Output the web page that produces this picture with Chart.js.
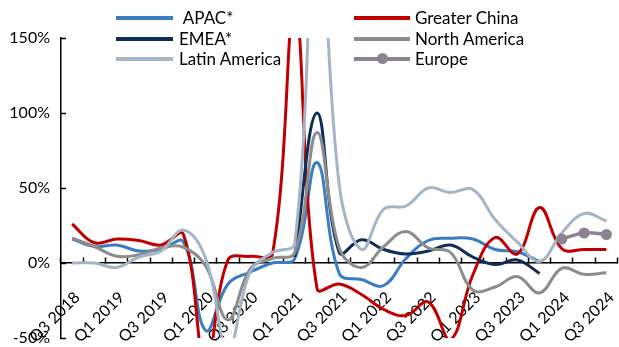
<!DOCTYPE html>
<html>
<head>
<meta charset="utf-8">
<script src="https://cdn.jsdelivr.net/npm/chart.js@4.4.1/dist/chart.umd.min.js"></script>
<style>
  html, body { margin: 0; padding: 0; background: #fff; overflow: hidden; width: 619px; height: 347px; }
  #wrap { position: relative; width: 623px; height: 347px; }
  #c { position: absolute; left: 0; top: 0; }
  .lg-text { position: absolute; font-family: Lato, sans-serif; font-size: 17px; color: #000; height: 20px; line-height: 20px; white-space: pre; }
  .lg-line { position: absolute; height: 4px; }
  .lg-dot { position: absolute; width: 11px; height: 11px; border-radius: 50%; }
</style>
</head>
<body>
<div id="wrap">
  <canvas id="c" width="623" height="347"></canvas>
  <div id="legend"></div>
</div>
<script>
// Quarterly year-over-year growth by region (%)
const quarters = ['Q3 2018', 'Q4 2018', 'Q1 2019', 'Q2 2019', 'Q3 2019', 'Q4 2019',
  'Q1 2020', 'Q2 2020', 'Q3 2020', 'Q4 2020', 'Q1 2021', 'Q2 2021', 'Q3 2021',
  'Q4 2021', 'Q1 2022', 'Q2 2022', 'Q3 2022', 'Q4 2022', 'Q1 2023', 'Q2 2023',
  'Q3 2023', 'Q4 2023', 'Q1 2024', 'Q2 2024', 'Q3 2024'];

const apac = [16, 11, 12, 8, 9, 14, -45, -14, -6, 0, 3, 67, -7, -11, -15, 3, 15, 16.5, 16, 9, 7.5, 1, null, null, null];
const greaterChina = [26, 13.5, 16, 15, 12, 19, -68, 2, 4.5, 6, 170, -17, -14, -21, -31, -35, -26, -51, -8, 17, 6, 37, 9.5, 9, 9];
const emea = [null, null, null, null, null, null, null, null, null, null, 4, 100, 7, 15.5, 9, 6, 8, 12, 4, -1, 2, -7, null, null, null];
const northAmerica = [16.5, 11, 4.5, 5.5, 10, 10.5, -2, -38, -4, 3, 7, 87, 10, -3, 11, 21, 10, 7, -18, -16, -9, -20, -3.5, -7.5, -6.5];
const latinAmerica = [0, 0, -3, 4, 8, 22, 3, -58, -6, 7, 13, 250, 52, 9, 36, 38, 50, 47, 49, 29, 14, 1, 20, 33, 28];
const europe = [null, null, null, null, null, null, null, null, null, null, null, null, null,
  null, null, null, null, null, null, null, null, null, 16, 20, 19];

const yTicks = [-50, 0, 50, 100, 150];

const colors = {
  apac: '#3b7dc2',
  china: '#c00000',
  emea: '#0e2d57',
  na: '#8c8c8c',
  latam: '#a4b5c7',
  europe: '#8d8292'
};

// legend: two columns, three rows
const legendItems = [
  { label: ' APAC*', color: colors.apac, col: 0, row: 0 },
  { label: 'Greater China', color: colors.china, col: 1, row: 0 },
  { label: 'EMEA*', color: colors.emea, col: 0, row: 1 },
  { label: 'North America', color: colors.na, col: 1, row: 1 },
  { label: 'Latin America', color: colors.latam, col: 0, row: 2 },
  { label: 'Europe', color: colors.europe, col: 1, row: 2, marker: true }
];

const legendEl = document.getElementById('legend');
const colLine = [[116, 173], [354, 410]];
const colText = [179, 415];
const rowY = [18, 38.5, 58.5];
legendItems.forEach(it => {
  const ln = document.createElement('div');
  ln.className = 'lg-line';
  ln.style.left = colLine[it.col][0] + 'px';
  ln.style.width = (colLine[it.col][1] - colLine[it.col][0]) + 'px';
  ln.style.top = (rowY[it.row] - 2) + 'px';
  ln.style.background = it.color;
  legendEl.appendChild(ln);
  if (it.marker) {
    const d = document.createElement('div');
    d.className = 'lg-dot';
    d.style.left = ((colLine[it.col][0] + colLine[it.col][1]) / 2 - 5.5) + 'px';
    d.style.top = (rowY[it.row] - 5.5) + 'px';
    d.style.background = it.color;
    legendEl.appendChild(d);
  }
  const tx = document.createElement('div');
  tx.className = 'lg-text';
  tx.textContent = it.label;
  tx.style.left = colText[it.col] + 'px';
  tx.style.top = (rowY[it.row] - 10) + 'px';
  legendEl.appendChild(tx);
});

const line = (label, data, color, extra) => Object.assign({
  label, data, borderColor: color, backgroundColor: color,
  borderWidth: 3, pointRadius: 0, fill: false
}, extra || {});

new Chart(document.getElementById('c'), {
  type: 'line',
  data: {
    labels: quarters,
    // listed top-most first
    datasets: [
      line('Europe', europe, colors.europe, { borderWidth: 3.5, pointRadius: 5.5, pointBorderWidth: 0, pointBackgroundColor: colors.europe }),
      line('Latin America', latinAmerica, colors.latam),
      line('North America', northAmerica, colors.na),
      line('EMEA*', emea, colors.emea),
      line('Greater China', greaterChina, colors.china),
      line('APAC*', apac, colors.apac)
    ]
  },
  options: {
    responsive: false,
    animation: false,
    devicePixelRatio: 1,
    layout: { padding: { top: 38, bottom: 9, left: 0, right: 0 } },
    elements: { line: { tension: 0.4, capBezierPoints: false } },
    plugins: { legend: { display: false }, tooltip: { enabled: false } },
    scales: {
      x: {
        type: 'category',
        position: { y: 0 },
        offset: true,
        grid: { offset: true, drawOnChartArea: false, drawTicks: true, tickLength: -6, tickWidth: 1.5, tickColor: '#000' },
        border: { display: true, color: '#000', width: 1.5 },
        ticks: {
          autoSkip: false, minRotation: 45, maxRotation: 45, padding: 31, labelOffset: 5,
          color: '#000', font: { family: 'Lato', size: 16 },
          callback(value, index) { return index % 2 === 0 ? quarters[index] : ''; }
        },
        afterFit(s) { s.height = 0; s.paddingLeft = 0; s.paddingRight = 0; s.paddingTop = 0; s.paddingBottom = 0; }
      },
      y: {
        min: -50, max: 150,
        afterBuildTicks(s) { s.ticks = yTicks.map(v => ({ value: v })); },
        grid: { drawOnChartArea: false, drawTicks: true, tickLength: -5, tickWidth: 1.5, tickColor: '#000' },
        border: { display: true, color: '#000', width: 1.5 },
        ticks: {
          padding: 16, color: '#000', font: { family: 'Lato', size: 16 },
          callback(v) { return v + '%'; }
        },
        afterFit(s) { s.width = 61; s.paddingTop = 0; s.paddingBottom = 0; }
      }
    }
  }
});
</script>
</body>
</html>
